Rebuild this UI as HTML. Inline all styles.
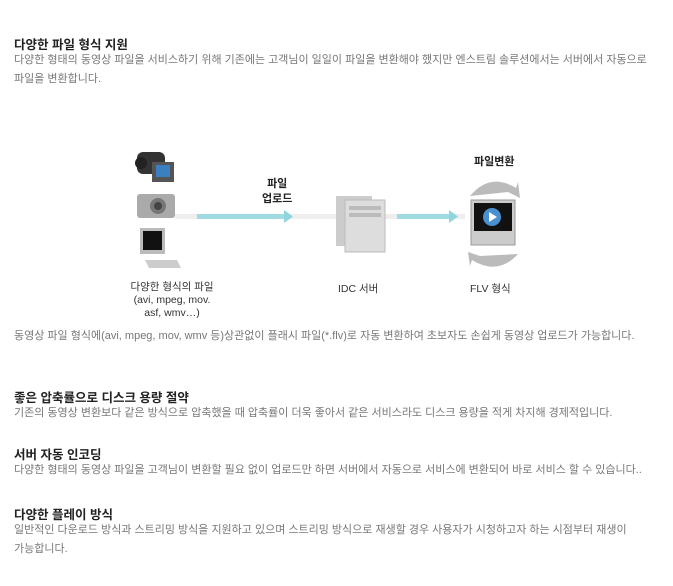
<!DOCTYPE html><html><head><meta charset="utf-8"><style>
body{margin:0;width:673px;height:586px;background:#fff;font-family:"Liberation Sans","Noto Sans CJK KR",sans-serif;position:relative;overflow:hidden}
.t{position:absolute;left:14px;font-size:12.5px;color:#222;font-weight:bold;white-space:nowrap}
.p{position:absolute;left:14px;font-size:11px;color:#777;white-space:nowrap;line-height:19px}
.a{position:absolute;font-size:10.5px;color:#333;white-space:nowrap;text-align:center}
</style></head><body>
<div class="t" style="top:34px">다양한 파일 형식 지원</div>
<div class="p" style="top:51px">다양한 형태의 동영상 파일을 서비스하기 위해 기존에는 고객님이 일일이 파일을 변환해야 했지만 엔스트림 솔루션에서는 서버에서 자동으로<br>파일을 변환합니다.</div>

<svg style="position:absolute;left:0;top:0" width="673" height="330">
<rect x="175" y="214" width="290" height="5" fill="#eee"/>
<rect x="197" y="214" width="87" height="5" fill="#9fdbe0"/>
<polygon points="284,210 293,216.5 284,223" fill="#8fd6dc"/>
<rect x="397" y="214" width="52" height="5" fill="#9fdbe0"/>
<polygon points="449,210 458,216.5 449,223" fill="#8fd6dc"/>
<rect x="137" y="152" width="28" height="22" rx="6" fill="#333"/>
<rect x="152" y="162" width="22" height="20" fill="#555"/><rect x="156" y="165" width="14" height="12" fill="#3a7fc0"/>
<circle cx="141" cy="163" r="6" fill="#222"/>
<rect x="137" y="194" width="38" height="24" rx="3" fill="#aaa"/><circle cx="158" cy="206" r="8" fill="#777"/><circle cx="158" cy="206" r="4" fill="#444"/>
<rect x="140" y="228" width="25" height="26" fill="#bbb"/><rect x="143" y="231" width="19" height="19" fill="#111"/>
<polygon points="145,260 177,260 181,268 149,268" fill="#ccc"/>
<rect x="336" y="196" width="36" height="50" fill="#ccc"/>
<rect x="345" y="200" width="40" height="52" fill="#ddd" stroke="#bbb"/>
<rect x="349" y="206" width="32" height="4" fill="#bbb"/><rect x="349" y="213" width="32" height="4" fill="#bbb"/>
<path d="M470,196 Q490,172 516,188 L518,182 L520,198 L508,192 Z" fill="#bbb"/>
<path d="M518,254 Q498,276 472,260 L470,266 L468,252 L480,256 Z" fill="#bbb"/>
<rect x="471" y="200" width="44" height="45" fill="#ccc" stroke="#999"/>
<rect x="474" y="203" width="38" height="28" fill="#111"/>
<circle cx="492" cy="217" r="9" fill="#4a8fd0"/><polygon points="489,212 497,217 489,222" fill="#fff"/>
</svg>
<div class="a" style="left:262px;top:177px;font-weight:bold;font-size:11px;line-height:15px;color:#222">파일<br>업로드</div>
<div class="a" style="left:474px;top:153px;font-weight:bold;font-size:11px;color:#222">파일변환</div>
<div class="a" style="left:110px;top:281px;width:124px;line-height:13px">다양한 형식의 파일<br>(avi, mpeg, mov.<br>asf, wmv…)</div>
<div class="a" style="left:338px;top:281px">IDC 서버</div>
<div class="a" style="left:470px;top:281px">FLV 형식</div>

<div class="p" style="top:327px">동영상 파일 형식에(avi, mpeg, mov, wmv 등)상관없이 플래시 파일(*.flv)로 자동 변환하여 초보자도 손쉽게 동영상 업로드가 가능합니다.</div>
<div class="t" style="top:387px">좋은 압축률으로 디스크 용량 절약</div>
<div class="p" style="top:404px">기존의 동영상 변환보다 같은 방식으로 압축했을 때 압축률이 더욱 좋아서 같은 서비스라도 디스크 용량을 적게 차지해 경제적입니다.</div>
<div class="t" style="top:444px">서버 자동 인코딩</div>
<div class="p" style="top:461px">다양한 형태의 동영상 파일을 고객님이 변환할 필요 없이 업로드만 하면 서버에서 자동으로 서비스에 변환되어 바로 서비스 할 수 있습니다..</div>
<div class="t" style="top:504px">다양한 플레이 방식</div>
<div class="p" style="top:521px">일반적인 다운로드 방식과 스트리밍 방식을 지원하고 있으며 스트리밍 방식으로 재생할 경우 사용자가 시청하고자 하는 시점부터 재생이<br>가능합니다.</div>
</body></html>
